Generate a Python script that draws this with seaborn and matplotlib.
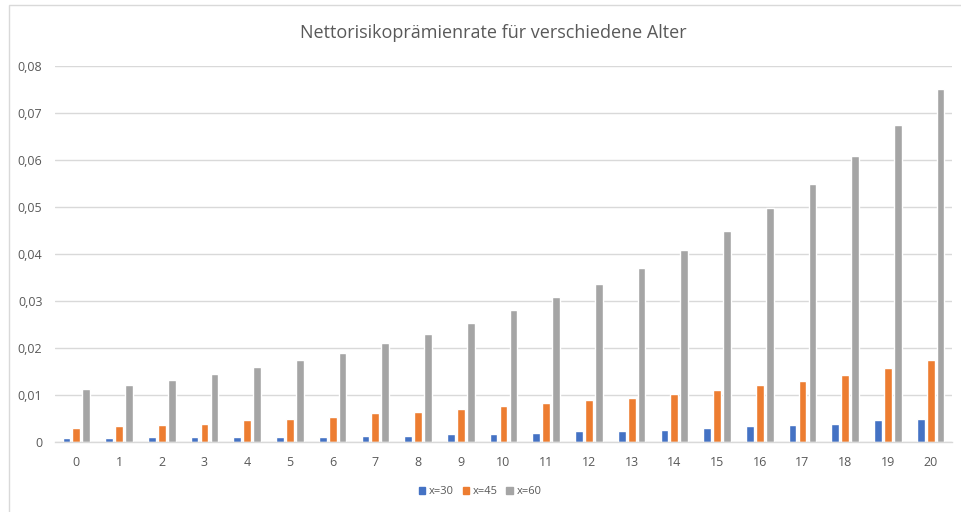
import matplotlib
matplotlib.use("Agg")
import matplotlib.pyplot as plt
import matplotlib.patches as mpatches
from matplotlib.ticker import FuncFormatter
import seaborn as sns
import pandas as pd

# Years into the contract
years = list(range(21))

# Net risk premium rate per entry age
rate_x30 = [0.0008, 0.0008, 0.0011, 0.0011, 0.0011, 0.0011, 0.0011, 0.0013, 0.0013, 0.0016,
            0.0016, 0.0020, 0.0023, 0.0023, 0.0026, 0.0030, 0.0033, 0.0036, 0.0039, 0.0046,
            0.0049]
rate_x45 = [0.0030, 0.0033, 0.0036, 0.0039, 0.0046, 0.0049, 0.0054, 0.0061, 0.0064, 0.0071,
            0.0077, 0.0082, 0.0089, 0.0094, 0.0102, 0.0111, 0.0121, 0.0130, 0.0143, 0.0158,
            0.0174]
rate_x60 = [0.0112, 0.0121, 0.0131, 0.0144, 0.0160, 0.0175, 0.0189, 0.0211, 0.0229, 0.0254,
            0.0280, 0.0308, 0.0336, 0.0370, 0.0408, 0.0449, 0.0497, 0.0549, 0.0609, 0.0675,
            0.0751]

series_names = ["x=30", "x=45", "x=60"]
colors = ["#4472C4", "#ED7D31", "#A5A5A5"]

df = pd.DataFrame({
    "Jahr": years * 3,
    "Rate": rate_x30 + rate_x45 + rate_x60,
    "Serie": [series_names[0]] * 21 + [series_names[1]] * 21 + [series_names[2]] * 21,
})

sns.set_theme(style="white")
plt.rcParams["font.family"] = ["Open Sans", "DejaVu Sans"]

fig = plt.figure(figsize=(9.62, 5.12), dpi=100)
ax = fig.add_axes([55 / 962, 1 - 442 / 512, (952 - 55) / 962, (442 - 66) / 512])

sns.barplot(data=df, x="Jahr", y="Rate", hue="Serie", palette=colors,
            width=0.7, gap=0.22, ax=ax, legend=False, errorbar=None,
            saturation=1)

ax.set_ylim(0, 0.08)
ax.set_xlim(-0.5, 20.5)
ax.set_yticks([i / 100 for i in range(9)])
ax.yaxis.set_major_formatter(FuncFormatter(
    lambda v, _: "0" if v == 0 else f"{v:.2f}".replace(".", ",")))
ax.grid(axis="y", color="#D9D9D9", linewidth=1.0)
ax.set_axisbelow(True)
for side in ["top", "right", "left"]:
    ax.spines[side].set_visible(False)
ax.spines["bottom"].set_color("#D9D9D9")
ax.spines["bottom"].set_linewidth(1.0)
ax.tick_params(axis="both", length=0, colors="#595959", labelsize=9)
ax.tick_params(axis="y", pad=9)
ax.tick_params(axis="x", pad=10)
ax.set_xlabel("")
ax.set_ylabel("")

fig.text(493 / 962, 1 - 33 / 512, "Nettorisikoprämienrate für verschiedene Alter",
         ha="center", va="center", fontsize=13, color="#595959")

handles = [mpatches.Patch(color=c, label=n) for c, n in zip(colors, series_names)]
fig.legend(handles=handles, loc="center", bbox_to_anchor=(480 / 962, 1 - 492 / 512),
           ncol=3, frameon=False, fontsize=8, labelcolor="#595959",
           handlelength=0.6, handleheight=0.6, handletextpad=0.3, columnspacing=0.8)

# chart frame
fig.patches.append(mpatches.Rectangle((8.5 / 962, -0.1), 1.2, 1 - 4.5 / 512 + 0.1,
                                      transform=fig.transFigure, fill=False,
                                      edgecolor="#D9D9D9", linewidth=1.0))

fig.savefig("out.png", dpi=100, facecolor="white")
